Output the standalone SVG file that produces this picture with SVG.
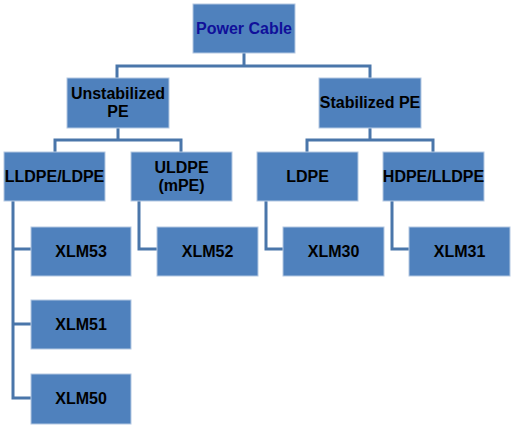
<svg xmlns="http://www.w3.org/2000/svg" width="515" height="429" viewBox="0 0 515 429">
<style>
.box{fill:#4F81BD;stroke:#B4C8E2;stroke-width:1}
.t{font-family:"Liberation Sans",Arial,sans-serif;font-weight:bold;font-size:16px;fill:#000;text-anchor:middle}
.c{fill:none;stroke:#4A76AA;stroke-width:3}
</style>
<rect width="515" height="429" fill="#fff"/>
<g id="connectors">
<path class="c" d="M244 53V66M117 66H370M117 64.5V78M370 64.5V78"/>
<path class="c" d="M118 128V140M55 140H181M55 138.5V152M181 138.5V152"/>
<path class="c" d="M370 128V140M307 140H433M307 138.5V152M433 138.5V152"/>
<path class="c" d="M13 201V398M11.5 249H31M11.5 324H31M11.5 398H31"/>
<path class="c" d="M139 201V249H157"/>
<path class="c" d="M266 201V249H283"/>
<path class="c" d="M392 201V249H409"/>
</g>
<g id="power-cable"><rect class="box" x="193" y="4" width="102" height="49"/><text class="t" x="244" y="34" style="fill:#10109A">Power Cable</text></g>
<g id="unstabilized-pe"><rect class="box" x="67" y="78" width="102" height="50"/><text class="t" x="118" y="99">Unstabilized</text><text class="t" x="118" y="117">PE</text></g>
<g id="stabilized-pe"><rect class="box" x="319" y="78" width="102" height="50"/><text class="t" x="370" y="108">Stabilized PE</text></g>
<g id="lldpe-ldpe"><rect class="box" x="4" y="152" width="101" height="49"/><text class="t" x="54.5" y="182">LLDPE/LDPE</text></g>
<g id="uldpe"><rect class="box" x="131" y="152" width="101" height="49"/><text class="t" x="181.5" y="173">ULDPE</text><text class="t" x="181.5" y="191">(mPE)</text></g>
<g id="ldpe"><rect class="box" x="257" y="152" width="101" height="49"/><text class="t" x="307.5" y="182">LDPE</text></g>
<g id="hdpe-lldpe"><rect class="box" x="383" y="152" width="101" height="49"/><text class="t" x="433.5" y="182">HDPE/LLDPE</text></g>
<g id="xlm53"><rect class="box" x="31" y="227" width="100" height="49"/><text class="t" x="81" y="257">XLM53</text></g>
<g id="xlm51"><rect class="box" x="31" y="300" width="100" height="49"/><text class="t" x="81" y="330">XLM51</text></g>
<g id="xlm50"><rect class="box" x="31" y="374" width="100" height="50"/><text class="t" x="81" y="404">XLM50</text></g>
<g id="xlm52"><rect class="box" x="157" y="227" width="101" height="49"/><text class="t" x="207.5" y="257">XLM52</text></g>
<g id="xlm30"><rect class="box" x="283" y="227" width="101" height="49"/><text class="t" x="333.5" y="257">XLM30</text></g>
<g id="xlm31"><rect class="box" x="409" y="227" width="101" height="49"/><text class="t" x="459.5" y="257">XLM31</text></g>
</svg>
